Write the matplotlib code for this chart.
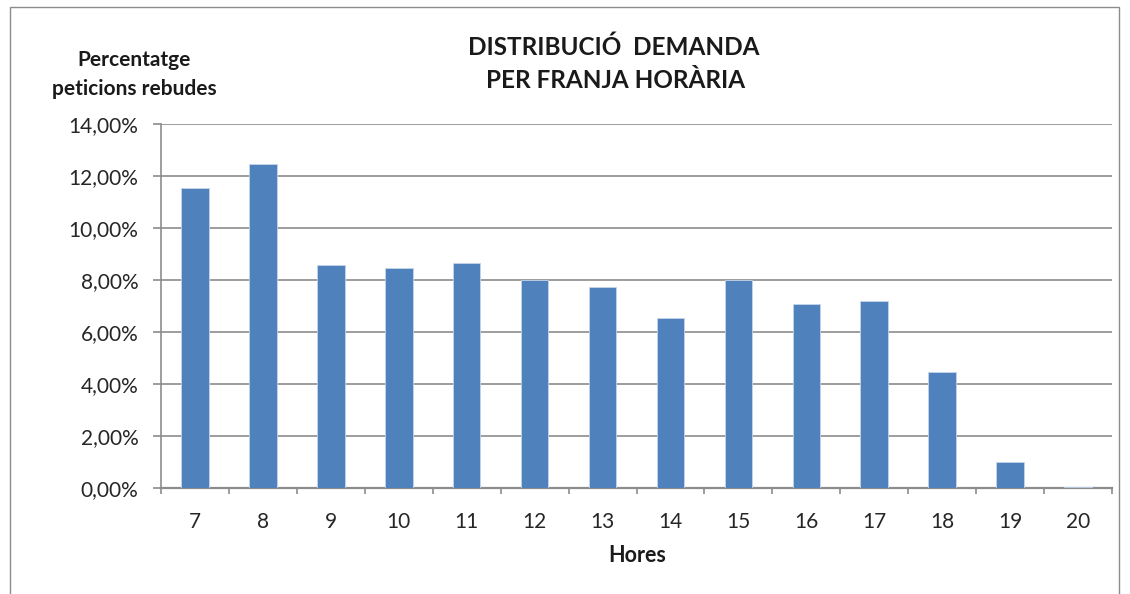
import matplotlib
matplotlib.use("Agg")
import matplotlib.pyplot as plt
from matplotlib.patches import Rectangle
from matplotlib.ticker import FuncFormatter, FixedLocator

hours = ["7", "8", "9", "10", "11", "12", "13", "14", "15", "16", "17", "18", "19", "20"]
percent = [11.53, 12.47, 8.56, 8.47, 8.65, 8.0, 7.75, 6.54, 8.0, 7.06, 7.2, 4.45, 1.0, 0.05]
yticks = [0, 2, 4, 6, 8, 10, 12, 14]

plt.rcParams['font.family'] = ['Lato', 'DejaVu Sans']

W, H = 1130, 594
fig = plt.figure(figsize=(W / 100, H / 100), dpi=100)
fig.patch.set_facecolor("white")

# outer chart frame
fig.add_artist(Rectangle((10 / W, -0.01), (1119 - 10) / W, 1 - 7 / H + 0.01,
                         transform=fig.transFigure, fill=False,
                         edgecolor="#8c8c8c", linewidth=1.0))

left, right, top, bottom = 161, 1112, 124, 488
ax = fig.add_axes([left / W, 1 - bottom / H, (right - left) / W, (bottom - top) / H])

x = list(range(len(hours)))
ax.bar(x, percent, width=0.405, color="#4f81bd", edgecolor="#c6d4ea", linewidth=0.6, zorder=3)

ax.set_xlim(-0.5, len(hours) - 0.5)
ax.set_ylim(0, 14)
ax.set_yticks(yticks)
ax.yaxis.set_major_formatter(FuncFormatter(lambda v, p: f"{v:.2f}".replace(".", ",") + "%"))
ax.grid(axis="y", color="#8c8c8c", linewidth=1.2, zorder=0)

ax.set_xticks(x)
ax.set_xticklabels(hours)
ax.xaxis.set_minor_locator(FixedLocator([i - 0.5 for i in range(len(hours) + 1)]))
ax.tick_params(axis="x", which="major", length=0, pad=17, labelsize=15, labelcolor="#262626")
ax.tick_params(axis="x", which="minor", length=4.5, width=1.2, color="#8c8c8c", direction="out")
ax.tick_params(axis="y", length=5.8, width=1.2, color="#8c8c8c", direction="out",
               labelsize=15, labelcolor="#262626", pad=10.5)

for s in ["top", "right"]:
    ax.spines[s].set_visible(False)
ax.spines["left"].set_color("#8c8c8c")
ax.spines["left"].set_linewidth(1.2)
ax.spines["bottom"].set_color("#8c8c8c")
ax.spines["bottom"].set_linewidth(1.6)

fig.text(614 / W, 1 - 47 / H, "DISTRIBUCIÓ  DEMANDA", ha="center", va="center",
         fontsize=17.5, fontweight="bold", color="#1a1a1a")
fig.text(616 / W, 1 - 80 / H, "PER FRANJA HORÀRIA", ha="center", va="center",
         fontsize=17.5, fontweight="bold", color="#1a1a1a")
fig.text(134 / W, 1 - 60 / H, "Percentatge", ha="center", va="center",
         fontsize=15, fontweight="bold", color="#1a1a1a")
fig.text(134 / W, 1 - 89 / H, "peticions rebudes", ha="center", va="center",
         fontsize=15, fontweight="bold", color="#1a1a1a")
fig.text(637 / W, 1 - 556 / H, "Hores", ha="center", va="center",
         fontsize=15.5, fontweight="bold", color="#1a1a1a")

fig.savefig("out.png", dpi=100, facecolor="white")
